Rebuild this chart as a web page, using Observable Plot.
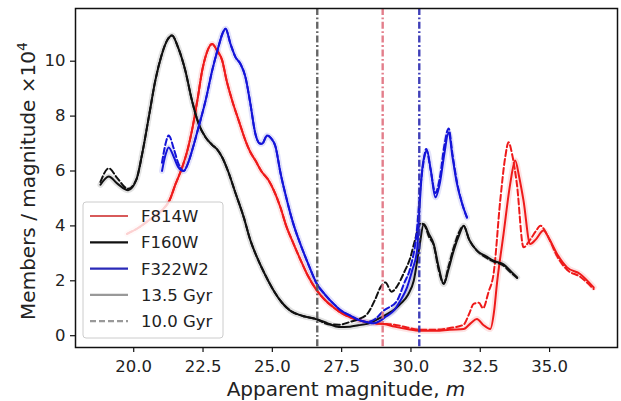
<!DOCTYPE html>
<html>
<head>
<meta charset="utf-8">
<script src="https://cdn.jsdelivr.net/npm/d3@7"></script>
<script src="https://cdn.jsdelivr.net/npm/@observablehq/plot@0.6"></script>
<style>
  html, body { margin: 0; padding: 0; background: white; }
  #chart { width: 621px; height: 401px; }
</style>
</head>
<body>
<div id="chart"></div>
<script>
// ---- Data ----
const xTicks = [20, 22.5, 25, 27.5, 30, 32.5, 35];
const yTicks = [0, 2, 4, 6, 8, 10];

// F160W, 13.5 Gyr
const f160Mag135 = [18.8, 19.1, 19.4, 19.8, 20.1, 20.3, 20.55, 20.78, 21.0, 21.2, 21.38, 21.6, 21.86, 22.1, 22.35, 22.59, 22.83, 23.0, 23.19, 23.4, 23.67, 23.97, 24.2, 24.45, 24.75, 25.05, 25.35, 25.65, 26.1, 26.6, 27.0, 27.4, 27.8, 28.1, 28.42, 28.8, 29.14, 29.4, 29.62, 29.9, 30.1, 30.3, 30.46, 30.65, 30.82, 31.0, 31.18, 31.35, 31.54, 31.75, 31.9, 32.1, 32.38, 32.7, 32.98, 33.34, 33.6, 33.83];
const f160Val135 = [5.5, 5.8, 5.55, 5.3, 5.7, 6.6, 8.0, 9.3, 10.2, 10.75, 10.94, 10.5, 9.66, 8.57, 7.7, 7.23, 6.95, 6.8, 6.5, 6.0, 5.2, 4.31, 3.5, 2.85, 2.2, 1.64, 1.2, 0.91, 0.72, 0.6, 0.45, 0.32, 0.33, 0.38, 0.43, 0.6, 0.79, 0.95, 1.16, 1.5, 2.0, 3.2, 4.07, 3.7, 3.34, 2.5, 1.88, 2.4, 3.1, 3.7, 4.01, 3.5, 3.1, 2.9, 2.73, 2.6, 2.35, 2.12];
// F160W, 10.0 Gyr
const f160Mag100 = [18.8, 19.1, 19.4, 19.8, 20.1, 20.3, 20.55, 20.78, 21.0, 21.2, 21.38, 21.6, 21.86, 22.1, 22.35, 22.59, 22.83, 23.0, 23.19, 23.4, 23.67, 23.97, 24.2, 24.45, 24.75, 25.05, 25.35, 25.65, 26.1, 26.6, 27.0, 27.4, 27.8, 28.1, 28.42, 28.7, 28.9, 29.08, 29.3, 29.5, 29.75, 29.98, 30.15, 30.35, 30.5, 30.65, 30.82, 31.0, 31.18, 31.35, 31.54, 31.75, 31.9, 32.1, 32.38, 32.7, 32.98, 33.34, 33.6, 33.83];
const f160Val100 = [5.6, 6.1, 5.75, 5.35, 5.7, 6.6, 8.0, 9.3, 10.2, 10.75, 10.94, 10.5, 9.66, 8.57, 7.7, 7.23, 6.95, 6.8, 6.5, 6.0, 5.2, 4.31, 3.5, 2.85, 2.2, 1.64, 1.2, 0.91, 0.72, 0.6, 0.42, 0.4, 0.5, 0.6, 0.79, 1.3, 1.76, 1.94, 1.6, 1.8, 2.3, 2.85, 3.5, 4.1, 4.0, 3.6, 3.3, 2.4, 1.9, 2.5, 3.2, 3.8, 4.0, 3.5, 3.1, 2.85, 2.7, 2.55, 2.3, 2.1];

// F322W2, 13.5 Gyr
const f322Mag135 = [21.02, 21.15, 21.26, 21.45, 21.6, 21.8, 22.0, 22.15, 22.34, 22.6, 22.83, 23.05, 23.2, 23.31, 23.5, 23.67, 23.85, 24.03, 24.2, 24.39, 24.55, 24.63, 24.81, 24.95, 25.11, 25.3, 25.53, 25.75, 26.01, 26.3, 26.61, 26.9, 27.21, 27.5, 27.81, 28.1, 28.42, 28.66, 28.9, 29.1, 29.38, 29.6, 29.86, 30.05, 30.22, 30.3, 30.4, 30.5, 30.58, 30.72, 30.88, 31.05, 31.2, 31.36, 31.5, 31.66, 31.85, 32.02];
const f322Val135 = [6.0, 6.6, 6.86, 6.5, 6.15, 6.0, 6.4, 6.9, 7.6, 8.6, 9.66, 10.5, 11.0, 11.18, 10.6, 10.15, 9.9, 9.42, 8.5, 7.35, 7.0, 6.99, 7.29, 7.2, 6.9, 5.9, 4.92, 4.1, 3.34, 2.6, 1.88, 1.5, 1.16, 0.9, 0.73, 0.58, 0.49, 0.45, 0.55, 0.7, 0.91, 1.25, 1.76, 2.4, 3.1, 4.5, 6.0, 6.6, 6.74, 6.0, 5.04, 5.6, 6.6, 7.41, 6.5, 5.53, 4.8, 4.31];
// F322W2, 10.0 Gyr
const f322Mag100 = [21.02, 21.15, 21.26, 21.45, 21.6, 21.8, 22.0, 22.15, 22.34, 22.6, 22.83, 23.05, 23.2, 23.31, 23.5, 23.67, 23.85, 24.03, 24.2, 24.39, 24.55, 24.63, 24.81, 24.95, 25.11, 25.3, 25.53, 25.75, 26.01, 26.3, 26.61, 26.9, 27.21, 27.5, 27.81, 28.1, 28.42, 28.7, 29.0, 29.5, 29.75, 29.98, 30.2, 30.35, 30.45, 30.55, 30.7, 30.88, 31.05, 31.2, 31.36, 31.5, 31.66, 31.85, 32.02];
const f322Val100 = [6.3, 7.0, 7.29, 6.8, 6.3, 6.0, 6.4, 6.9, 7.6, 8.6, 9.66, 10.5, 11.0, 11.18, 10.6, 10.15, 9.9, 9.42, 8.5, 7.35, 7.0, 6.99, 7.29, 7.2, 6.9, 5.9, 4.92, 4.1, 3.34, 2.6, 1.88, 1.5, 1.16, 0.9, 0.73, 0.58, 0.5, 0.6, 0.9, 1.28, 1.9, 2.49, 3.7, 5.5, 6.3, 6.8, 6.1, 5.2, 5.8, 6.9, 7.55, 6.6, 5.6, 4.8, 4.3];

// F814W, 13.5 Gyr
const f814Mag135 = [19.76, 20.2, 20.6, 21.0, 21.3, 21.5, 21.75, 21.95, 22.1, 22.3, 22.47, 22.6, 22.83, 23.0, 23.19, 23.35, 23.55, 23.8, 24.03, 24.2, 24.39, 24.6, 24.87, 25.05, 25.29, 25.5, 25.77, 26.0, 26.25, 26.61, 26.9, 27.21, 27.5, 27.81, 28.1, 28.42, 28.7, 29.02, 29.4, 29.86, 30.34, 30.9, 31.4, 31.9, 32.15, 32.38, 32.6, 32.86, 33.0, 33.1, 33.34, 33.58, 33.76, 33.9, 34.06, 34.3, 34.5, 34.78, 35.0, 35.27, 35.63, 36.1, 36.59];
const f814Val135 = [3.71, 3.95, 4.25, 4.55, 4.95, 5.5, 6.14, 6.8, 7.47, 8.6, 9.66, 10.2, 10.63, 10.4, 10.03, 9.3, 8.57, 7.8, 7.11, 6.7, 6.38, 6.0, 5.65, 5.3, 4.68, 4.0, 3.34, 2.8, 2.25, 1.64, 1.3, 1.03, 0.82, 0.67, 0.57, 0.49, 0.45, 0.43, 0.33, 0.24, 0.18, 0.18, 0.22, 0.24, 0.45, 0.61, 0.4, 0.24, 0.9, 1.88, 3.71, 5.53, 6.38, 5.8, 4.92, 3.34, 3.5, 3.83, 3.5, 2.98, 2.49, 2.25, 1.76];
// F814W, 10.0 Gyr
const f814Mag100 = [19.76, 20.2, 20.6, 21.0, 21.3, 21.5, 21.75, 21.95, 22.1, 22.3, 22.47, 22.6, 22.83, 23.0, 23.19, 23.35, 23.55, 23.8, 24.03, 24.2, 24.39, 24.6, 24.87, 25.05, 25.29, 25.5, 25.77, 26.0, 26.25, 26.61, 26.9, 27.21, 27.5, 27.81, 28.1, 28.42, 28.7, 29.02, 29.4, 29.86, 30.34, 30.9, 31.4, 31.9, 32.1, 32.26, 32.45, 32.6, 32.8, 32.98, 33.22, 33.4, 33.52, 33.65, 33.82, 34.06, 34.3, 34.5, 34.67, 34.9, 35.27, 35.63, 36.1, 36.59];
const f814Val100 = [3.71, 3.95, 4.25, 4.55, 4.95, 5.5, 6.14, 6.8, 7.47, 8.6, 9.66, 10.2, 10.63, 10.4, 10.03, 9.3, 8.57, 7.8, 7.11, 6.7, 6.38, 6.0, 5.65, 5.3, 4.68, 4.0, 3.34, 2.8, 2.25, 1.64, 1.3, 1.03, 0.82, 0.67, 0.57, 0.49, 0.45, 0.43, 0.4, 0.3, 0.22, 0.22, 0.28, 0.4, 0.8, 1.16, 1.2, 1.0, 1.6, 2.25, 4.92, 6.5, 7.05, 6.6, 5.53, 3.22, 3.5, 3.8, 4.01, 3.7, 2.9, 2.4, 2.15, 1.7];

// Completeness limits (vertical dash-dot lines)
const limitMags = [26.62, 28.98, 30.3];
const limitFilters = ["F160W", "F814W", "F322W2"];

const filters = ["F814W", "F160W", "F322W2"];
const ages = ["13.5 Gyr", "10.0 Gyr"];

// ---- Build tables ----
function rows(mags, vals, filter, age) {
  return mags.map((m, i) => ({mag: m, val: vals[i], filter, age}));
}
const series = [
  rows(f814Mag135, f814Val135, "F814W", "13.5 Gyr"),
  rows(f814Mag100, f814Val100, "F814W", "10.0 Gyr"),
  rows(f160Mag135, f160Val135, "F160W", "13.5 Gyr"),
  rows(f160Mag100, f160Val100, "F160W", "10.0 Gyr"),
  rows(f322Mag135, f322Val135, "F322W2", "13.5 Gyr"),
  rows(f322Mag100, f322Val100, "F322W2", "10.0 Gyr")
];
const lineColor = {"F814W": "#ee1a1a", "F160W": "#111111", "F322W2": "#1414d8"};
const ruleColor = {"F814W": "#e0707e", "F160W": "#555555", "F322W2": "#2a2ab0"};
const limits = limitMags.map((m, i) => ({mag: m, filter: limitFilters[i]}));

const lineMarks = [];
// faint uncertainty halos
for (const s of series) {
  if (s[0].age === "13.5 Gyr") {
    lineMarks.push(Plot.line(s, {x: "mag", y: "val", stroke: lineColor[s[0].filter], strokeWidth: 6, strokeOpacity: 0.12, curve: "monotone-x"}));
  }
}
for (const s of series) {
  const dashed = s[0].age === "10.0 Gyr";
  lineMarks.push(Plot.line(s, {
    x: "mag", y: "val",
    stroke: lineColor[s[0].filter],
    strokeWidth: 2,
    strokeDasharray: dashed ? "6,3" : null,
    curve: "monotone-x"
  }));
}

const chart = Plot.plot({
  width: 621,
  height: 401,
  marginLeft: 75,
  marginRight: 4,
  marginTop: 8,
  marginBottom: 54,
  x: {domain: [17.9, 37.45]},
  y: {domain: [-0.43, 11.92]},
  style: {fontFamily: "'DejaVu Sans', sans-serif", fontSize: "16.5px", color: "#222", background: "white", overflow: "visible"},
  marks: [
    ...lineMarks,
    ...limits.map(l => Plot.ruleX([l], {x: "mag", stroke: ruleColor[l.filter], strokeWidth: 2.4, strokeOpacity: 0.9, strokeDasharray: "7,2.5,1.8,2.5"})),
    Plot.frame({stroke: "#111", strokeWidth: 1.5}),
    Plot.axisX({ticks: xTicks, tickFormat: d3.format(".1f"), tickSize: 5, tickPadding: 8, label: null, stroke: "#111", strokeWidth: 1.2}),
    Plot.axisY({ticks: yTicks, tickFormat: d3.format("d"), tickSize: 5, tickPadding: 5, label: null, stroke: "#111", strokeWidth: 1.2})
  ]
});
document.getElementById("chart").appendChild(chart);

// ---- Axis labels & legend ----
const svg = d3.select(chart);
const font = "'DejaVu Sans', sans-serif";

const xl = svg.append("text")
  .attr("x", 346).attr("y", 396)
  .attr("text-anchor", "middle")
  .attr("font-family", font).attr("font-size", 20).attr("fill", "#222");
xl.append("tspan").text("Apparent magnitude, ");
xl.append("tspan").attr("font-style", "italic").text("m");

const yl = svg.append("text")
  .attr("transform", "translate(35,181) rotate(-90)")
  .attr("text-anchor", "middle")
  .attr("font-family", font).attr("font-size", 20).attr("fill", "#222");
yl.append("tspan").text("Members / magnitude ×10");
yl.append("tspan").attr("font-size", 14).attr("dy", -8).text("4");

const lg = svg.append("g");
lg.append("rect")
  .attr("x", 83).attr("y", 202).attr("width", 140).attr("height", 136)
  .attr("rx", 3)
  .attr("fill", "white").attr("fill-opacity", 0.8)
  .attr("stroke", "#cccccc").attr("stroke-width", 1);
const legendItems = [
  {label: filters[0], color: "#d85a5a", dash: null},
  {label: filters[1], color: "#111111", dash: null},
  {label: filters[2], color: "#2a2ab8", dash: null},
  {label: ages[0], color: "#999999", dash: null},
  {label: ages[1], color: "#999999", dash: "6,3"}
];
legendItems.forEach((d, i) => {
  const y = 216 + i * 26.3;
  lg.append("line")
    .attr("x1", 90).attr("x2", 128).attr("y1", y).attr("y2", y)
    .attr("stroke", d.color).attr("stroke-width", 2.2)
    .attr("stroke-dasharray", d.dash);
  lg.append("text")
    .attr("x", 141).attr("y", y).attr("dy", "0.36em")
    .attr("text-anchor", "start")
    .attr("font-family", font).attr("font-size", 16.5).attr("fill", "#222")
    .text(d.label);
});
</script>
</body>
</html>
